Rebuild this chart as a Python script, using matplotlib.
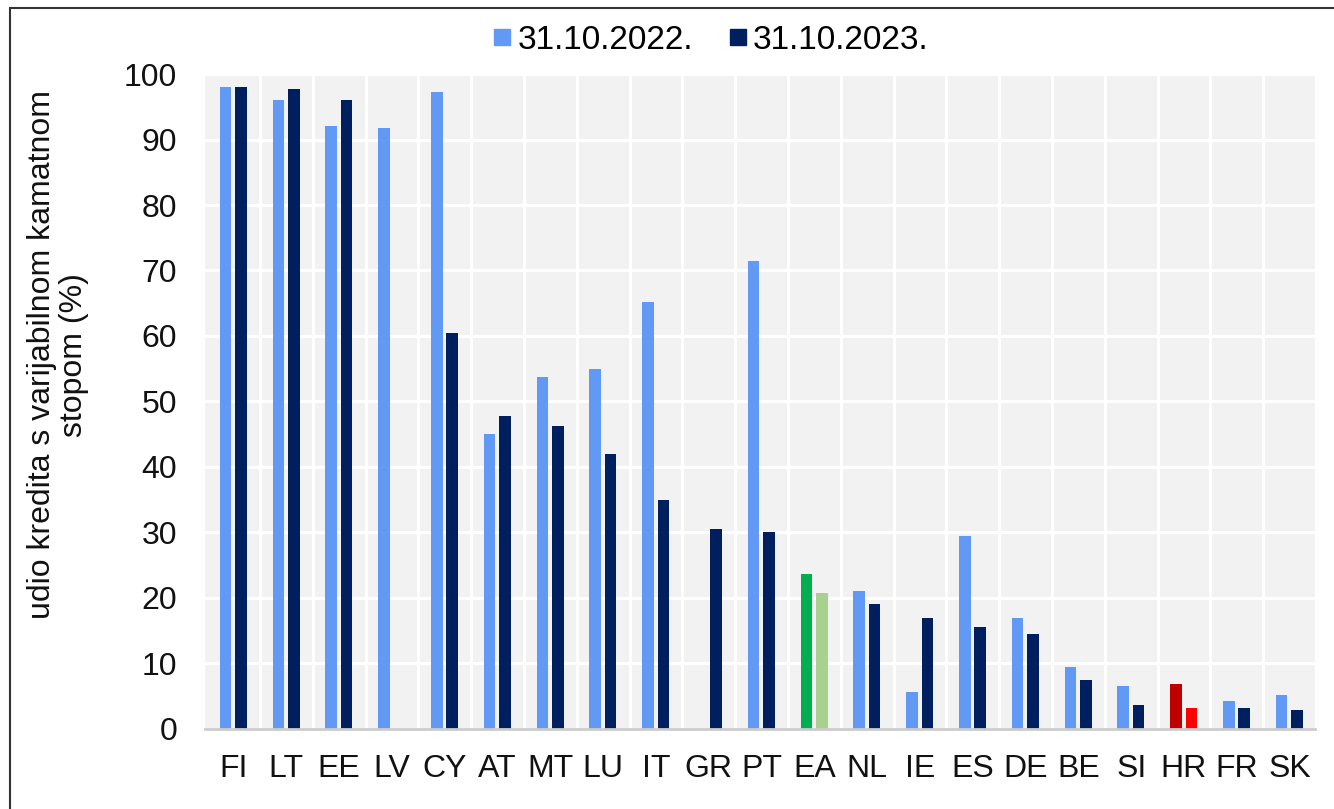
import matplotlib
matplotlib.use("Agg")
import matplotlib.pyplot as plt
from matplotlib.patches import Rectangle
from matplotlib.lines import Line2D
import numpy as np

plt.rcParams['font.family'] = ['Liberation Sans', 'DejaVu Sans']

categories = ["FI", "LT", "EE", "LV", "CY", "AT", "MT", "LU", "IT", "GR", "PT",
              "EA", "NL", "IE", "ES", "DE", "BE", "SI", "HR", "FR", "SK"]
values_2022 = [98.0, 96.0, 92.0, 91.8, 97.2, 45.0, 53.7, 55.0, 65.2, np.nan, 71.5,
               23.7, 21.0, 5.7, 29.5, 17.0, 9.5, 6.5, 6.8, 4.3, 5.2]
values_2023 = [98.0, 97.7, 96.0, np.nan, 60.5, 47.8, 46.2, 42.0, 35.0, 30.5, 30.0,
               20.7, 19.0, 17.0, 15.5, 14.5, 7.5, 3.7, 3.2, 3.2, 2.9]
series_labels = ["31.10.2022.", "31.10.2023."]
yticks = list(range(0, 101, 10))

c22 = "#6199f5"
c23 = "#001f5e"
colors22 = [c22] * len(categories)
colors23 = [c23] * len(categories)
colors22[categories.index("EA")] = "#00b050"
colors23[categories.index("EA")] = "#a9d18e"
colors22[categories.index("HR")] = "#c00000"
colors23[categories.index("HR")] = "#ff0000"

fig = plt.figure(figsize=(13.34, 8.09), dpi=100)
ax = fig.add_axes([0.1537, 0.099, 0.832, 0.8095])
ax.set_facecolor("#f2f2f2")

x = np.arange(len(categories))
w = 0.22
ax.bar(x - 0.15, values_2022, width=w, color=colors22, zorder=3, label=series_labels[0])
ax.bar(x + 0.14, values_2023, width=w, color=colors23, zorder=3, label=series_labels[1])

ax.set_xlim(-0.54, len(categories) - 0.52)
ax.set_ylim(0, 100)
ax.set_yticks(yticks)
ax.set_xticks(x)
ax.set_xticklabels(categories)
ax.set_xticks(np.arange(0.5, len(categories) - 0.5, 1), minor=True)
ax.grid(True, axis="y", which="major", color="white", lw=2.2, zorder=1)
ax.grid(True, axis="x", which="minor", color="white", lw=2.2, zorder=1)
ax.grid(False, axis="x", which="major")
ax.tick_params(axis="both", which="both", length=0, labelsize=23, colors="#111111")
ax.tick_params(axis="x", pad=18)
ax.tick_params(axis="y", pad=20)
for s in ["top", "right", "left"]:
    ax.spines[s].set_visible(False)
ax.spines["bottom"].set_color("#cccccc")
ax.spines["bottom"].set_linewidth(2)
ax.spines["bottom"].set_zorder(4)

ax.set_ylabel("udio kredita s varijabilnom kamatnom\nstopom (%)", fontsize=23,
              color="#111111", linespacing=1.1)
ax.yaxis.set_label_coords(-0.1045, 0.571)

handles = [Line2D([], [], marker="s", ls="", color=c22, markersize=12),
           Line2D([], [], marker="s", ls="", color=c23, markersize=12)]
fig.legend(handles, series_labels, loc="center", bbox_to_anchor=(0.532, 0.95), ncol=2,
           frameon=False, fontsize=24, handletextpad=0.1, columnspacing=1.0,
           handlelength=0.7)

fig.patches.append(Rectangle((0.0075, -0.1), 1.1, 1.09, transform=fig.transFigure,
                             fill=False, edgecolor="#333333", lw=1.5))

fig.savefig("out.png", dpi=100)
